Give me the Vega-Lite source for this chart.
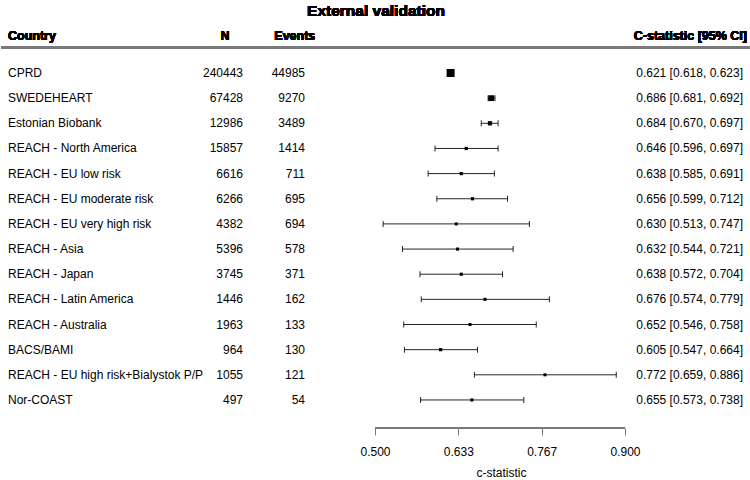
{
  "$schema": "https://vega.github.io/schema/vega-lite/v6.json",
  "width": 750,
  "height": 428,
  "padding": 0,
  "config": {
    "view": {"stroke": null},
    "font": "Arial, Liberation Sans, sans-serif",
    "text": {"font": "Arial, Liberation Sans, sans-serif", "fontSize": 12, "color": "#000000", "baseline": "middle"}
  },
  "data": {
    "values": [
      {"row": 0, "country": "CPRD", "n": 240443, "events": 44985, "est": 0.621, "lo": 0.618, "hi": 0.623, "weight": 200, "ci": "0.621 [0.618, 0.623]"},
      {"row": 1, "country": "SWEDEHEART", "n": 67428, "events": 9270, "est": 0.686, "lo": 0.681, "hi": 0.692, "weight": 91, "ci": "0.686 [0.681, 0.692]"},
      {"row": 2, "country": "Estonian Biobank", "n": 12986, "events": 3489, "est": 0.684, "lo": 0.670, "hi": 0.697, "weight": 37, "ci": "0.684 [0.670, 0.697]"},
      {"row": 3, "country": "REACH - North America", "n": 15857, "events": 1414, "est": 0.646, "lo": 0.596, "hi": 0.697, "weight": 9.9, "ci": "0.646 [0.596, 0.697]"},
      {"row": 4, "country": "REACH - EU low risk", "n": 6616, "events": 711, "est": 0.638, "lo": 0.585, "hi": 0.691, "weight": 9.4, "ci": "0.638 [0.585, 0.691]"},
      {"row": 5, "country": "REACH - EU moderate risk", "n": 6266, "events": 695, "est": 0.656, "lo": 0.599, "hi": 0.712, "weight": 8.8, "ci": "0.656 [0.599, 0.712]"},
      {"row": 6, "country": "REACH - EU very high risk", "n": 4382, "events": 694, "est": 0.630, "lo": 0.513, "hi": 0.747, "weight": 4.3, "ci": "0.630 [0.513, 0.747]"},
      {"row": 7, "country": "REACH - Asia", "n": 5396, "events": 578, "est": 0.632, "lo": 0.544, "hi": 0.721, "weight": 5.6, "ci": "0.632 [0.544, 0.721]"},
      {"row": 8, "country": "REACH - Japan", "n": 3745, "events": 371, "est": 0.638, "lo": 0.572, "hi": 0.704, "weight": 7.6, "ci": "0.638 [0.572, 0.704]"},
      {"row": 9, "country": "REACH - Latin America", "n": 1446, "events": 162, "est": 0.676, "lo": 0.574, "hi": 0.779, "weight": 4.9, "ci": "0.676 [0.574, 0.779]"},
      {"row": 10, "country": "REACH - Australia", "n": 1963, "events": 133, "est": 0.652, "lo": 0.546, "hi": 0.758, "weight": 4.7, "ci": "0.652 [0.546, 0.758]"},
      {"row": 11, "country": "BACS/BAMI", "n": 964, "events": 130, "est": 0.605, "lo": 0.547, "hi": 0.664, "weight": 8.5, "ci": "0.605 [0.547, 0.664]"},
      {"row": 12, "country": "REACH - EU high risk+Bialystok P/P", "n": 1055, "events": 121, "est": 0.772, "lo": 0.659, "hi": 0.886, "weight": 4.4, "ci": "0.772 [0.659, 0.886]"},
      {"row": 13, "country": "Nor-COAST", "n": 497, "events": 54, "est": 0.655, "lo": 0.573, "hi": 0.738, "weight": 6.1, "ci": "0.655 [0.573, 0.738]"}
    ]
  },
  "layer": [
    {
      "mark": {"type": "rule", "color": "#000000", "strokeWidth": 1, "opacity": 0.85},
      "encoding": {
        "x": {
          "field": "lo", "type": "quantitative",
          "scale": {"domain": [-0.0984, 1.1016], "nice": false, "zero": false},
          "axis": {
            "values": [0.5, 0.6333333, 0.7666667, 0.9],
            "format": ".3f",
            "domain": false,
            "grid": false,
            "tickColor": "#7a7a7a",
            "tickSize": 7,
            "tickWidth": 1,
            "labelFontSize": 12,
            "labelColor": "#000000",
            "labelPadding": 11,
            "labelFont": "Arial, Liberation Sans, sans-serif",
            "title": "c-statistic",
            "titleFont": "Arial, Liberation Sans, sans-serif",
            "titleFontWeight": "normal",
            "titleFontSize": 12,
            "titleColor": "#000000",
            "titleX": 500,
            "titleY": 44,
            "titleBaseline": "middle"
          }
        },
        "x2": {"field": "hi"},
        "y": {"field": "row", "type": "quantitative", "scale": {"domain": [-2.9026, 14.115], "reverse": true, "nice": false, "zero": false}, "axis": null}
      }
    },
    {
      "mark": {"type": "rule", "color": "#7a7a7a", "strokeWidth": 2},
      "encoding": {
        "y": {"datum": -1.006, "type": "quantitative"}
      }
    },
    {
      "mark": {"type": "rule", "color": "#7a7a7a", "strokeWidth": 1},
      "encoding": {
        "x": {"datum": 0.5, "type": "quantitative"},
        "x2": {"datum": 0.9},
        "y": {"datum": 14.115, "type": "quantitative"}
      }
    },
    {
      "mark": {"type": "text", "text": "External validation", "fontSize": 15.5, "fontWeight": "bold", "align": "center"},
      "encoding": {
        "x": {"datum": 0.5016, "type": "quantitative"},
        "y": {"datum": -2.485, "type": "quantitative"}
      }
    },
    {
      "mark": {"type": "text", "text": "Country", "fontSize": 12.5, "fontWeight": "bold", "align": "left"},
      "encoding": {
        "x": {"datum": -0.0872, "type": "quantitative"},
        "y": {"datum": -1.491, "type": "quantitative"}
      }
    },
    {
      "mark": {"type": "text", "text": "N", "fontSize": 12.5, "fontWeight": "bold", "align": "right"},
      "encoding": {
        "x": {"datum": 0.2672, "type": "quantitative"},
        "y": {"datum": -1.491, "type": "quantitative"}
      }
    },
    {
      "mark": {"type": "text", "text": "Events", "fontSize": 12.5, "fontWeight": "bold", "align": "left"},
      "encoding": {
        "x": {"datum": 0.3389, "type": "quantitative"},
        "y": {"datum": -1.491, "type": "quantitative"}
      }
    },
    {
      "mark": {"type": "text", "text": "C-statistic [95% CI]", "fontSize": 12.5, "fontWeight": "bold", "align": "right"},
      "encoding": {
        "x": {"datum": 1.0952, "type": "quantitative"},
        "y": {"datum": -1.491, "type": "quantitative"}
      }
    },
    {
      "mark": {"type": "text", "align": "left"},
      "encoding": {
        "x": {"datum": -0.0872, "type": "quantitative"},
        "y": {"field": "row", "type": "quantitative"},
        "text": {"field": "country"}
      }
    },
    {
      "mark": {"type": "text", "align": "right"},
      "encoding": {
        "x": {"datum": 0.2888, "type": "quantitative"},
        "y": {"field": "row", "type": "quantitative"},
        "text": {"field": "n", "type": "quantitative", "format": "d"}
      }
    },
    {
      "mark": {"type": "text", "align": "right"},
      "encoding": {
        "x": {"datum": 0.388, "type": "quantitative"},
        "y": {"field": "row", "type": "quantitative"},
        "text": {"field": "events", "type": "quantitative", "format": "d"}
      }
    },
    {
      "mark": {"type": "text", "align": "right"},
      "encoding": {
        "x": {"datum": 1.0888, "type": "quantitative"},
        "y": {"field": "row", "type": "quantitative"},
        "text": {"field": "ci"}
      }
    },
    {
      "mark": {"type": "tick", "orient": "vertical", "size": 6, "thickness": 1, "color": "#000000", "opacity": 0.85},
      "encoding": {
        "x": {"field": "lo", "type": "quantitative"},
        "y": {"field": "row", "type": "quantitative"}
      }
    },
    {
      "mark": {"type": "tick", "orient": "vertical", "size": 6, "thickness": 1, "color": "#000000", "opacity": 0.85},
      "encoding": {
        "x": {"field": "hi", "type": "quantitative"},
        "y": {"field": "row", "type": "quantitative"}
      }
    },
    {
      "mark": {"type": "point", "shape": "square", "filled": true, "color": "#000000", "opacity": 1},
      "encoding": {
        "x": {"field": "est", "type": "quantitative"},
        "y": {"field": "row", "type": "quantitative"},
        "size": {"field": "weight", "type": "quantitative", "scale": {"domain": [4, 200], "range": [9, 64], "zero": false}, "legend": null}
      }
    }
  ]
}
